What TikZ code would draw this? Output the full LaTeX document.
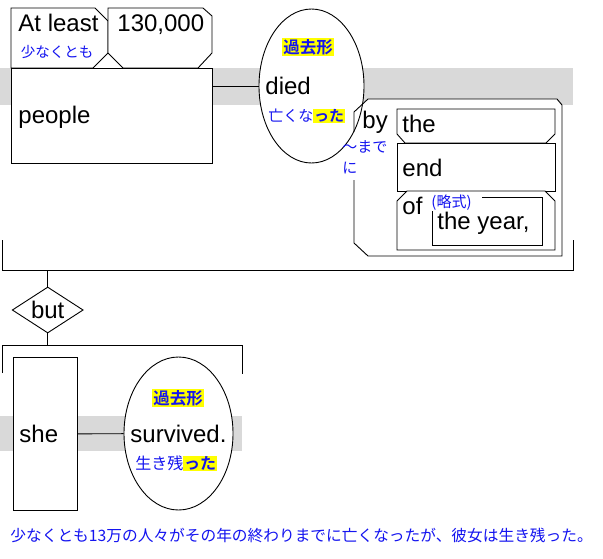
\documentclass[tikz,border=0pt]{standalone}
\usepackage{fontspec}
\setmainfont{Liberation Sans}
\newfontfamily\jp{Noto Sans CJK JP}[BoldFont={Noto Sans CJK JP Bold}]
\usetikzlibrary{shapes.geometric}
\definecolor{jblue}{RGB}{20,20,240}
\definecolor{band}{RGB}{217,217,217}
\definecolor{hl}{RGB}{255,255,0}
\setlength{\fboxsep}{0.6pt}
\begin{document}
\begin{tikzpicture}[x=1pt,y=-1pt, line width=0.9pt,
  en/.style={anchor=base west, inner sep=0pt, font=\fontsize{24}{28}\selectfont},
  ja/.style={anchor=west, inner sep=0pt, text=jblue, font=\jp\fontsize{15}{18}\selectfont},
  tag/.style={inner sep=1.2pt, fill=hl, text=jblue, font=\jp\bfseries\fontsize{16.5}{18}\selectfont},
  box/.style={draw, fill=white, inner sep=0pt, anchor=north west},
  oval/.style={draw, fill=white, ellipse, inner sep=0pt},
]
\useasboundingbox (0,0) rectangle (603,558);
\fill[white] (0,0) rectangle (603,558);
% grey bands
\fill[band] (0,68) rectangle (573,105);
\fill[band] (0,416) rectangle (242,451);
% modifiers of "people"
\draw[fill=white] (11,8) -- (95,8) -- (108,21) -- (108,53) -- (93,68) -- (11,68) -- cycle;
\draw[fill=white] (108,8) -- (203,8) -- (212,16) -- (212,53) -- (198,68) -- (123,68) -- (108,53) -- cycle;
\node[box, minimum width=201, minimum height=95] (people) at (11,68) {};
\node[en] (atleast) at (18,31) {At least};
\node[ja, font=\jp\fontsize{14.5}{18}\selectfont] (sukunaku) at (20.5,52) {少なくとも};
\node[en] (num) at (117,31) {130,000};
\node[en] (peoplet) at (18,123) {people};
% by-phrase fill
\fill[white] (354,112) -- (368,99) -- (557,99) -- (562,105) -- (562,256) -- (368,256) -- (354,243) -- cycle;
% died
\node[oval, minimum width=105, minimum height=154] (died) at (311.5,86) {};
\draw (people.north east |- died.west) -- (died.west);
\node[tag] (kako1) at (308,47) {過去形};
\node[en] (diedt) at (265,94) {died};
\node[ja] (nakunatta) at (268,116) {亡くな\colorbox{hl}{\bfseries った}};
% by box
\draw (354,132) -- (354,112) -- (368,99) -- (557,99) -- (562,105) -- (562,256) -- (368,256) -- (354,243) -- (354,180);
\node[en] (byt) at (362,128) {by};
\node[ja, align=left, font=\jp\fontsize{15}{21}\selectfont] (madeni) at (342,157) {〜まで\\に};
\draw[fill=white] (405,143) -- (397,134) -- (397,109) -- (555,109) -- (555,134) -- (546,143) -- cycle;
\node[box, minimum width=158, minimum height=48] (endbox) at (397,143) {};
\draw[fill=white] (407,191) -- (397,201) -- (397,250) -- (555,250) -- (555,201) -- (545,191) -- cycle;
\draw (482,197) -- (542,197) -- (542,245) -- (432,245) -- (432,211);
\node[en] (thet) at (402,132) {the};
\node[en] (endt) at (402,176) {end};
\node[en] (oft) at (402,214) {of};
\node[en] (yeart) at (437,229) {the year,};
\node[ja] (ryaku) at (431,203) {(略式)};
% conjunction
\coordinate (b1l) at (2,240);
\coordinate (b1r) at (573,240);
\coordinate (b1m) at (47.7,270);
\node[draw, diamond, aspect=1.54, minimum width=71, minimum height=46, inner sep=0pt, font=\fontsize{24}{28}\selectfont] (but) at (47.7,310) {but};
\coordinate (b2m) at (47.7,345);
\coordinate (b2l) at (2,373);
\coordinate (b2r) at (242,374);
\draw (b1l) -- (b1l |- b1m) -- (b1r |- b1m) -- (b1r);
\draw (b1m) -- (but.north);
\draw (but.south) -- (b2m);
\draw (b2l) -- (b2l |- b2m) -- (b2r |- b2m) -- (b2r);
% second clause
\node[box, minimum width=64, minimum height=153] (she) at (13,357) {};
\node[oval, minimum width=109, minimum height=153] (surv) at (178.5,433.5) {};
\draw (she) -- (surv);
\node[en] (shet) at (19,442) {she};
\node[tag] (kako2) at (178,398) {過去形};
\node[en] (survt) at (130,442) {survived.};
\node[ja, font=\jp\fontsize{16}{18}\selectfont] (ikinokotta) at (135,463) {生き残\colorbox{hl}{\bfseries った}};
% translation
\node[ja, font=\jp\fontsize{15.7}{18}\selectfont] (trans) at (10,535) {少なくとも13万の人々がその年の終わりまでに亡くなったが、彼女は生き残った。};
\end{tikzpicture}
\end{document}
